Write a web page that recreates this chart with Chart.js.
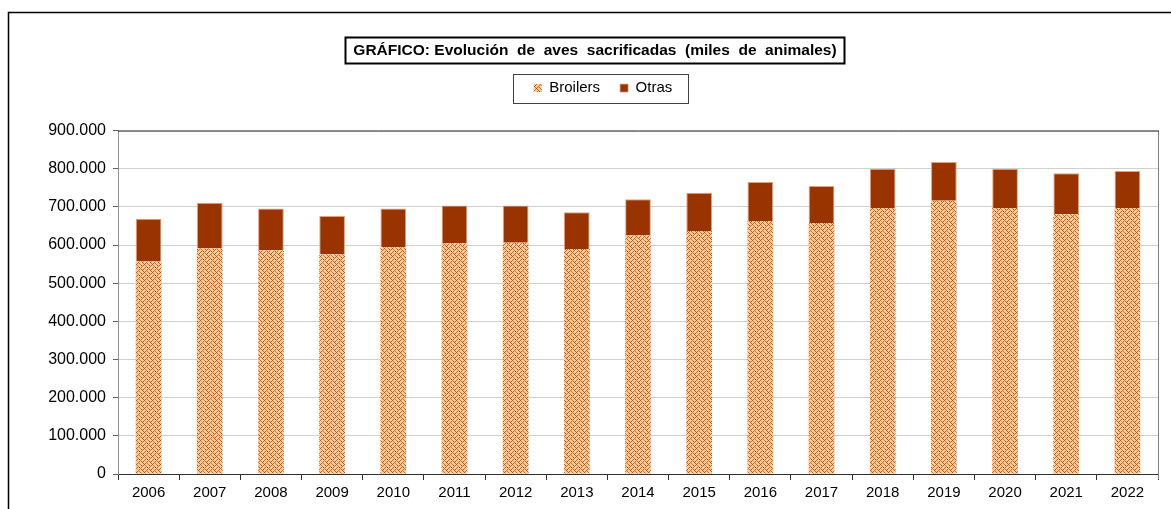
<!DOCTYPE html>
<html>
<head>
<meta charset="utf-8">
<script src="https://cdn.jsdelivr.net/npm/chart.js@4"></script>
<style>
  html, body { margin: 0; padding: 0; background: #fff; }
  #wrap { width: 1171px; height: 509px; position: relative; }
</style>
</head>
<body>
<div id="wrap"><canvas id="avesChart" width="1171" height="509"></canvas></div>
<script>
// años
const years = ["2006", "2007", "2008", "2009", "2010", "2011", "2012", "2013", "2014",
               "2015", "2016", "2017", "2018", "2019", "2020", "2021", "2022"];
// miles de animales
const broilers = [557000, 591000, 586000, 575000, 594000, 604000, 606000, 590000, 625000,
                  637000, 663000, 658000, 697000, 716000, 697000, 681000, 697000];
const otras = [112000, 120000, 110000, 101000, 102000, 100000, 98000, 96000, 95000,
               100000, 102000, 97000, 103000, 102000, 103000, 107000, 97000];
const yMax = 900000;
const yStep = 100000;

const FONT = "Arial, 'Liberation Sans', sans-serif";
const TITLE = "GRÁFICO: Evolución  de  aves  sacrificadas  (miles  de  animales)";

// trama tipo "tejido" para los broilers
const makePattern = () => {
    const bits = [
        "10001000",
        "01000101",
        "00100010",
        "01010100",
        "10001000",
        "00010101",
        "00100010",
        "01010001"
    ];
    const c = document.createElement("canvas");
    c.width = 8;
    c.height = 8;
    const x = c.getContext("2d");
    x.fillStyle = "#FFCC99";
    x.fillRect(0, 0, 8, 8);
    bits.forEach((row, j) => {
        for (let i = 0; i < 8; i++) {
            if (row[i] === "1") {
                x.fillStyle = (i + j) % 3 === 0 ? "#B84A10" : "#D06A28";
                x.fillRect(i, j, 1, 1);
            }
        }
    });
    return x.createPattern(c, "repeat");
};

const fmt = (v) => String(v).replace(/\B(?=(\d{3})+(?!\d))/g, ".");

// hueco bajo la leyenda y desplazamiento del título/leyenda hacia la derecha
const legendGapPlugin = {
    id: "legendGap",
    beforeLayout(chart) {
        const lg = chart.legend;
        if (lg && !lg._gapPatched) {
            const fit = lg.fit.bind(lg);
            lg.fit = function () {
                fit();
                this.height += 25;
            };
            lg._gapPatched = true;
        }
    },
    afterLayout(chart) {
        const t = chart.titleBlock;
        t.left += 16;
        t.right += 16;
        const lg = chart.legend;
        lg.left += 24;
        lg.right += 24;
    }
};

// marco exterior, recuadros del título y la leyenda, borde del área de trazado
const framePlugin = {
    id: "frames",
    beforeDraw(chart) {
        const ctx = chart.ctx;
        ctx.save();
        ctx.fillStyle = "#fff";
        ctx.fillRect(0, 0, chart.width, chart.height);
        ctx.strokeStyle = "#000";
        ctx.lineWidth = 1.5;
        ctx.beginPath();
        ctx.moveTo(8.5, chart.height);
        ctx.lineTo(8.5, 12.5);
        ctx.lineTo(chart.width, 12.5);
        ctx.stroke();
        ctx.restore();
    },
    afterDraw(chart) {
        const ctx = chart.ctx;
        const a = chart.chartArea;
        ctx.save();
        // borde superior y derecho del área
        ctx.strokeStyle = "#808080";
        ctx.lineWidth = 1;
        ctx.beginPath();
        ctx.moveTo(a.right + 0.5, a.top);
        ctx.lineTo(a.right + 0.5, a.bottom + 5);
        ctx.stroke();
        ctx.strokeStyle = "#303030";
        ctx.beginPath();
        ctx.moveTo(a.left, a.top + 0.5);
        ctx.lineTo(a.right + 1, a.top + 0.5);
        ctx.stroke();

        // recuadro del título
        const t = chart.titleBlock;
        const tf = chart.options.plugins.title.font;
        ctx.font = "bold " + tf.size + "px " + FONT;
        const tw = ctx.measureText(TITLE).width;
        const cx = (t.left + t.right) / 2;
        const cy = t.top + t.options.padding.top + tf.size * 0.6;
        ctx.strokeStyle = "#000";
        ctx.lineWidth = 2;
        ctx.strokeRect(Math.round(cx - tw / 2 - 8) + 0.5, Math.round(cy - 13) + 0.5, Math.round(tw + 16), 26);

        // recuadro de la leyenda
        const hb = chart.legend.legendHitBoxes;
        if (hb && hb.length) {
            let l = Infinity, r = -Infinity, tp = Infinity, b = -Infinity;
            hb.forEach((h) => {
                l = Math.min(l, h.left);
                r = Math.max(r, h.left + h.width);
                tp = Math.min(tp, h.top);
                b = Math.max(b, h.top + h.height);
            });
            ctx.strokeStyle = "#404040";
            ctx.lineWidth = 1;
            ctx.strokeRect(Math.round(l - 21) + 0.5, Math.round(tp - 7) + 0.5, Math.round(r - l + 36), Math.round(b - tp + 14));
        }
        ctx.restore();
    }
};

const ctx = document.getElementById("avesChart").getContext("2d");
const pattern = makePattern();

new Chart(ctx, {
    type: "bar",
    data: {
        labels: years,
        datasets: [
            {
                label: "Broilers",
                data: broilers,
                backgroundColor: pattern,
                borderWidth: 0,
                barPercentage: 0.42,
                categoryPercentage: 1
            },
            {
                label: "Otras",
                data: otras,
                backgroundColor: "#993300",
                borderColor: "#E3A07E",
                borderWidth: { top: 1, left: 1, right: 1, bottom: 0 },
                barPercentage: 0.42,
                categoryPercentage: 1
            }
        ]
    },
    options: {
        responsive: false,
        animation: false,
        layout: { padding: { left: 0, right: 13, top: 0, bottom: 3 } },
        plugins: {
            title: {
                display: true,
                text: TITLE,
                color: "#000",
                font: { family: FONT, size: 15.5, weight: "bold" },
                padding: { top: 41, bottom: 1 }
            },
            legend: {
                display: true,
                labels: {
                    color: "#000",
                    font: { family: FONT, size: 15 },
                    boxWidth: 8,
                    boxHeight: 8,
                    padding: 20
                }
            },
            tooltip: { enabled: false }
        },
        scales: {
            x: {
                stacked: true,
                grid: {
                    display: true,
                    drawOnChartArea: false,
                    offset: true,
                    tickLength: 6,
                    tickColor: "#303030"
                },
                border: { color: "#303030", width: 1 },
                ticks: {
                    color: "#000",
                    font: { family: FONT, size: 15 },
                    padding: 4,
                    maxRotation: 0
                }
            },
            y: {
                stacked: true,
                min: 0,
                max: yMax,
                afterFit: (scale) => { scale.width = 118; },
                grid: {
                    color: "#D0D0D0",
                    tickLength: 5,
                    tickColor: "#606060"
                },
                border: { color: "#909090", width: 1 },
                ticks: {
                    stepSize: yStep,
                    color: "#000",
                    font: { family: FONT, size: 16 },
                    padding: 7,
                    callback: (v) => fmt(v)
                }
            }
        }
    },
    plugins: [legendGapPlugin, framePlugin]
});
</script>
</body>
</html>
